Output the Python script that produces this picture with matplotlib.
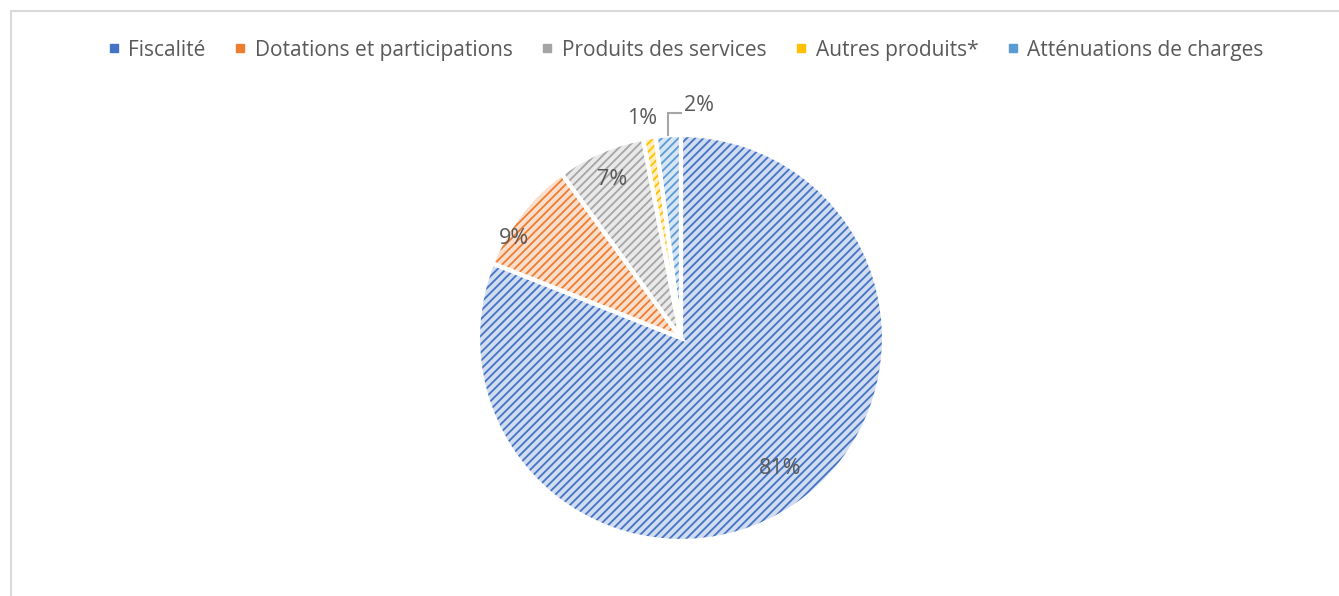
import matplotlib
matplotlib.use("Agg")
import matplotlib.pyplot as plt
import numpy as np
from matplotlib.lines import Line2D
from matplotlib.colors import to_rgb

categories = ["Fiscalité", "Dotations et participations", "Produits des services",
              "Autres produits*", "Atténuations de charges"]
values = [81, 9, 7, 1, 2]
labels = ["81%", "9%", "7%", "1%", "2%"]
colors = ["#4472C4", "#ED7D31", "#A5A5A5", "#FFC000", "#5B9BD5"]
# label placement styles: radial distance and angular offset (deg)
label_r = [0.81, 0.96, 0.85, 1.10, 1.15]
label_off = [3, 7, 0, 1, -8]

plt.rcParams['font.family'] = ['Open Sans', 'DejaVu Sans']
plt.rcParams['hatch.linewidth'] = 1.3
TXT = "#595959"

W, H = 1339, 596
fig = plt.figure(figsize=(W / 100, H / 100), dpi=100)

def tint(c, f=0.75):
    r = np.array(to_rgb(c))
    return tuple(r + (1 - r) * f)

cx, cy, R = 681, 338, 203
ax = fig.add_axes([(cx - R) / W, (H - cy - R) / H, 2 * R / W, 2 * R / H])

wedges, _ = ax.pie(values, startangle=90, counterclock=False,
                   colors=[tint(c) for c in colors],
                   wedgeprops=dict(linewidth=0))
for w, c in zip(wedges, colors):
    w.set_hatch("////")
    w.set_edgecolor(c)
    w.set_linewidth(0)
# white separators on top
wedges2, _ = ax.pie(values, startangle=90, counterclock=False,
                    colors=["none"] * len(values),
                    wedgeprops=dict(linewidth=3, edgecolor="white", fill=False))
ax.set_xlim(-1, 1)
ax.set_ylim(-1, 1)
ax.set_aspect("equal")

for i, w in enumerate(wedges):
    mid = np.deg2rad((w.theta1 + w.theta2) / 2 + label_off[i])
    x, y = label_r[i] * np.cos(mid), label_r[i] * np.sin(mid)
    ax.text(x, y, labels[i], ha="center", va="center", fontsize=15.5,
            color=TXT, clip_on=False)

# leader line for the last small slice
w = wedges[-1]
mid = np.deg2rad((w.theta1 + w.theta2) / 2)
x0, y0 = np.cos(mid), np.sin(mid)
tmid = np.deg2rad((w.theta1 + w.theta2) / 2 + label_off[-1])
tx, ty = label_r[-1] * np.cos(tmid), label_r[-1] * np.sin(tmid)
ax.plot([x0 * 1.0, x0 * 1.0, tx - 0.09], [y0 + 0.0, ty - 0.04, ty - 0.04],
        color="#A6A6A6", lw=1.5, clip_on=False, solid_joinstyle="miter")

handles = [Line2D([], [], marker="s", linestyle="none", markersize=6,
                  markerfacecolor=c, markeredgecolor=c) for c in colors]
fig.legend(handles, categories, loc="center", bbox_to_anchor=(0.512, 0.916),
           ncol=5, frameon=False, fontsize=15, labelcolor=TXT,
           handlelength=0.6, handletextpad=0.4, columnspacing=1.36)

# outer frame (partially visible)
fig.add_artist(Line2D([10.5 / W, 10.5 / W, 1.0], [0, 1 - 11 / H, 1 - 11 / H],
                      transform=fig.transFigure, color="#D9D9D9", lw=1.5))

fig.savefig("out.png", dpi=100, facecolor="white")
